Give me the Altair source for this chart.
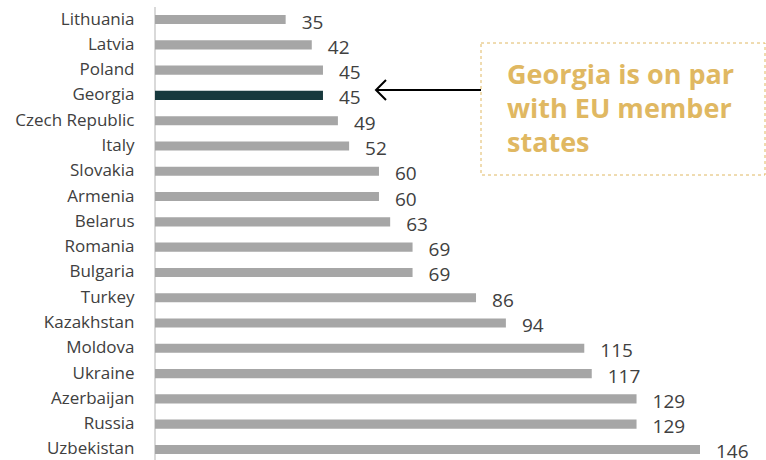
import altair as alt
import pandas as pd

countries = ["Lithuania", "Latvia", "Poland", "Georgia", "Czech Republic", "Italy",
             "Slovakia", "Armenia", "Belarus", "Romania", "Bulgaria", "Turkey",
             "Kazakhstan", "Moldova", "Ukraine", "Azerbaijan", "Russia", "Uzbekistan"]
values = [35, 42, 45, 45, 49, 52, 60, 60, 63, 69, 69, 86, 94, 115, 117, 129, 129, 146]
highlight = "Georgia"
annotation_lines = ["Georgia is on par", "with EU member", "states"]

df = pd.DataFrame({"country": countries, "value": values})
df["hl"] = df["country"] == highlight

FONT = "Open Sans"
GOLD = "#E0B862"

y_enc = alt.Y("country:N", sort=countries,
              scale=alt.Scale(paddingInner=0.64, paddingOuter=0),
              axis=alt.Axis(title=None, ticks=False, labelPadding=21, labelFontSize=17,
                            labelFont=FONT, labelColor="#404040", domain=False, grid=False))
x_enc = alt.X("value:Q", scale=alt.Scale(domain=[0, 146], nice=False, zero=True), axis=None)

one = pd.DataFrame({"a": [0]})

axis_line = alt.Chart(one).mark_rule(color="#D9D9D9", strokeWidth=2).encode(
    x=alt.value(0), y=alt.value(-8), y2=alt.value(450))

bars = alt.Chart(df).mark_bar().encode(
    x=x_enc, y=y_enc,
    color=alt.condition("datum.hl", alt.value("#17393D"), alt.value("#A6A6A6")),
)

labels = alt.Chart(df).mark_text(align="left", baseline="middle", dx=16, dy=3,
                                 fontSize=19, font=FONT, color="#404040").encode(
    x=x_enc, y=alt.Y("country:N", sort=countries), text="value:Q")

box = alt.Chart(one).mark_rect(
    fill=None, stroke=GOLD, strokeWidth=1, strokeDash=[3, 3]).encode(
    x=alt.value(326), x2=alt.value(610), y=alt.value(28), y2=alt.value(160))

arrow_line = alt.Chart(one).mark_rule(color="black", strokeWidth=2).encode(
    x=alt.value(221), x2=alt.value(326), y=alt.value(75))

arrow_head = alt.Chart(one).mark_point(
    shape="M1,-1L0,0L1,1", size=400, filled=False, stroke="black", strokeWidth=2, opacity=1).encode(
    x=alt.value(221), y=alt.value(75))

note = alt.Chart(pd.DataFrame({"t": ["\n".join(annotation_lines)]})).mark_text(
    align="left", baseline="top", fontSize=27, fontWeight="bold", font=FONT,
    color=GOLD, lineBreak="\n", lineHeight=34).encode(
    x=alt.value(352), y=alt.value(48), text="t:N")

chart = alt.layer(axis_line, bars, labels, box, arrow_line, arrow_head, note).properties(
    width=545, height=439,
    background="white",
    autosize=alt.AutoSizeParams(type="none"),
    padding={"left": 155, "top": 15, "right": 66, "bottom": 6},
).configure_view(strokeWidth=0, stroke=None)

chart.save("out.html", embed_options={"renderer": "svg", "actions": False})
